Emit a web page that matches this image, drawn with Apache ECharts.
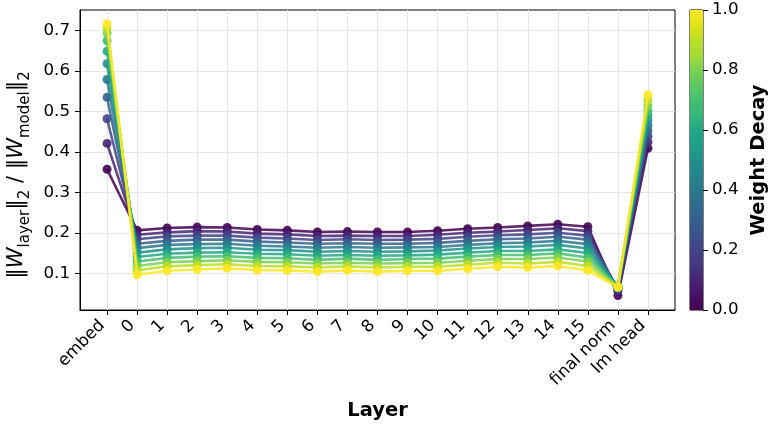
<!DOCTYPE html>
<html>
<head>
<meta charset="utf-8">
<script src="https://cdn.jsdelivr.net/npm/echarts@6/dist/echarts.min.js"></script>
<style>html,body{margin:0;padding:0;background:#fff;}#c{width:770px;height:427px;}</style>
</head>
<body>
<div id="c"></div>
<script>
const layers = ['embed','0','1','2','3','4','5','6','7','8','9','10','11','12','13','14','15','final norm','lm head'];
const yTicks = [0.1, 0.2, 0.3, 0.4, 0.5, 0.6, 0.7];
const cbTicks = [0.0, 0.2, 0.4, 0.6, 0.8, 1.0];
const weightDecays = [0.0, 0.1, 0.2, 0.3, 0.4, 0.5, 0.6, 0.7, 0.8, 0.9, 1.0];

const wd00 = [0.357, 0.206, 0.212, 0.214, 0.213, 0.208, 0.206, 0.202, 0.203, 0.202, 0.202, 0.205, 0.210, 0.213, 0.217, 0.221, 0.215, 0.045, 0.409];
const wd01 = [0.421, 0.195, 0.201, 0.204, 0.203, 0.198, 0.196, 0.192, 0.193, 0.192, 0.192, 0.195, 0.200, 0.203, 0.207, 0.211, 0.204, 0.056, 0.424];
const wd02 = [0.482, 0.184, 0.191, 0.193, 0.193, 0.188, 0.186, 0.182, 0.184, 0.182, 0.183, 0.185, 0.190, 0.194, 0.196, 0.200, 0.193, 0.060, 0.438];
const wd03 = [0.535, 0.173, 0.180, 0.183, 0.183, 0.178, 0.176, 0.173, 0.174, 0.173, 0.173, 0.175, 0.180, 0.184, 0.186, 0.190, 0.183, 0.063, 0.452];
const wd04 = [0.579, 0.162, 0.170, 0.172, 0.173, 0.168, 0.166, 0.163, 0.165, 0.163, 0.164, 0.165, 0.170, 0.174, 0.176, 0.180, 0.172, 0.065, 0.465];
const wd05 = [0.618, 0.151, 0.159, 0.162, 0.163, 0.158, 0.157, 0.153, 0.155, 0.153, 0.154, 0.156, 0.161, 0.165, 0.166, 0.170, 0.161, 0.066, 0.478];
const wd06 = [0.649, 0.140, 0.148, 0.151, 0.152, 0.148, 0.147, 0.143, 0.145, 0.143, 0.144, 0.146, 0.151, 0.155, 0.155, 0.159, 0.150, 0.067, 0.490];
const wd07 = [0.675, 0.129, 0.138, 0.141, 0.142, 0.138, 0.137, 0.133, 0.136, 0.133, 0.135, 0.136, 0.141, 0.145, 0.145, 0.149, 0.139, 0.067, 0.502];
const wd08 = [0.694, 0.118, 0.127, 0.130, 0.132, 0.128, 0.127, 0.124, 0.126, 0.124, 0.125, 0.126, 0.131, 0.135, 0.135, 0.139, 0.129, 0.067, 0.515];
const wd09 = [0.707, 0.107, 0.117, 0.120, 0.122, 0.118, 0.117, 0.114, 0.117, 0.114, 0.116, 0.116, 0.121, 0.126, 0.124, 0.128, 0.118, 0.066, 0.528];
const wd10 = [0.717, 0.096, 0.106, 0.109, 0.112, 0.108, 0.107, 0.104, 0.107, 0.104, 0.106, 0.106, 0.111, 0.116, 0.114, 0.118, 0.107, 0.065, 0.541];
const seriesValues = [wd00, wd01, wd02, wd03, wd04, wd05, wd06, wd07, wd08, wd09, wd10];

const viridis11 = ['#440154','#482475','#414487','#355f8d','#2a788e','#21918c','#22a884','#44bf70','#7ad151','#bddf26','#fde725'];
const viridisStops = [
  [0.00,'#440154'],[0.05,'#471365'],[0.10,'#482475'],[0.15,'#453781'],[0.20,'#414487'],
  [0.25,'#3b528b'],[0.30,'#355f8d'],[0.35,'#2f6c8e'],[0.40,'#2a788e'],[0.45,'#25848e'],
  [0.50,'#21918c'],[0.55,'#1f9e89'],[0.60,'#22a884'],[0.65,'#35b779'],[0.70,'#44bf70'],
  [0.75,'#5ec962'],[0.80,'#7ad151'],[0.85,'#a5db36'],[0.90,'#bddf26'],[0.95,'#dfe318'],[1.00,'#fde725']
];

const FONT = 'DejaVu Sans';
const TICK_FS = 16.7;
const chart = echarts.init(document.getElementById('c'), null, {renderer: 'canvas'});
const xIdx = layers.map((_, i) => i);

const lineSeries = seriesValues.map((vals, k) => ({
  type: 'line',
  name: 'wd ' + weightDecays[k].toFixed(1),
  xAxisIndex: 0, yAxisIndex: 0,
  data: vals.map((v, i) => [i, v]),
  symbol: 'circle',
  symbolSize: 9,
  lineStyle: {width: 2.6, color: viridis11[k], opacity: 0.85},
  itemStyle: {color: viridis11[k], opacity: 0.9},
  animation: false,
  z: 2 + k
}));

chart.setOption({
  animation: false,
  textStyle: {fontFamily: FONT},
  grid: [
    {left: 80, right: 95, top: 10, bottom: 117, show: true, borderColor: '#000', borderWidth: 1,
      backgroundColor: 'transparent', containLabel: false, outerBoundsMode: 'none'},
    {left: 690, width: 13, top: 10, height: 300, show: true, borderColor: '#000', borderWidth: 1,
      containLabel: false, outerBoundsMode: 'none'}
  ],
  xAxis: [
    {
      type: 'value', gridIndex: 0, min: -0.9, max: 18.9,
      axisLine: {show: true, onZero: false, lineStyle: {color: '#000', width: 1}},
      axisTick: {show: true, inside: false, length: 5, lineStyle: {color: '#000'}, customValues: xIdx},
      axisLabel: {show: true, customValues: xIdx, rotate: 45, margin: 8, fontSize: TICK_FS, color: '#000', fontFamily: FONT,
        padding: [0, 7, 0, 0],
        formatter: v => layers[Math.round(v)] || ''},
      splitLine: {show: true, lineStyle: {color: '#e6e6e6', width: 1}},
      name: 'Layer', nameLocation: 'middle', nameGap: 91,
      nameTextStyle: {fontSize: 19.5, fontWeight: 'bold', color: '#000', fontFamily: FONT}
    },
    {
      type: 'category', gridIndex: 1, data: [''],
      axisLine: {show: false}, axisTick: {show: false}, axisLabel: {show: false}, splitLine: {show: false}
    }
  ],
  yAxis: [
    {
      type: 'value', gridIndex: 0, min: 0.009, max: 0.751,
      axisLine: {show: true, onZero: false, lineStyle: {color: '#000', width: 1}},
      axisTick: {show: true, inside: false, length: 5, lineStyle: {color: '#000'}, customValues: yTicks},
      axisLabel: {show: true, customValues: yTicks, fontSize: TICK_FS, color: '#000', margin: 10, fontFamily: FONT,
        formatter: v => v.toFixed(1)},
      splitLine: {show: true, lineStyle: {color: '#e6e6e6', width: 1}},
      name: '{b|‖}{i|W}{s|layer}{b|‖}{s|2}{b| / ‖}{i|W}{s|model}{b|‖}{s|2}{sp| }',
      nameLocation: 'middle', nameRotate: 90, nameGap: 52,
      nameTextStyle: {
        color: '#000', fontFamily: FONT,
        rich: {
          b: {fontSize: 21, fontFamily: FONT, color: '#000', lineHeight: 26, verticalAlign: 'bottom'},
          i: {fontSize: 21, fontFamily: FONT, fontStyle: 'italic', color: '#000', lineHeight: 26, verticalAlign: 'bottom'},
          s: {fontSize: 15, fontFamily: FONT, color: '#000', lineHeight: 26, verticalAlign: 'bottom', padding: [0, 0, -6, 0]},
          sp: {fontSize: 10, width: 30, lineHeight: 26}
        }
      }
    },
    {
      type: 'value', gridIndex: 1, min: 0, max: 1, interval: 0.2, position: 'right',
      axisLine: {show: false},
      axisTick: {show: true, inside: false, length: 5, lineStyle: {color: '#000'}},
      axisLabel: {show: true, fontSize: TICK_FS, color: '#000', margin: 9, fontFamily: FONT, formatter: v => v.toFixed(1)},
      splitLine: {show: false},
      name: 'Weight Decay', nameLocation: 'middle', nameRotate: 90, nameGap: 46,
      nameTextStyle: {fontSize: 19.5, fontWeight: 'bold', color: '#000', fontFamily: FONT}
    }
  ],
  series: [
    {
      type: 'bar', xAxisIndex: 1, yAxisIndex: 1, data: [1], barWidth: '100%', silent: true,
      itemStyle: {color: {type: 'linear', x: 0, y: 1, x2: 0, y2: 0,
        colorStops: viridisStops.map(s => ({offset: s[0], color: s[1]}))}}
    }
  ].concat(lineSeries)
});
</script>
</body>
</html>
